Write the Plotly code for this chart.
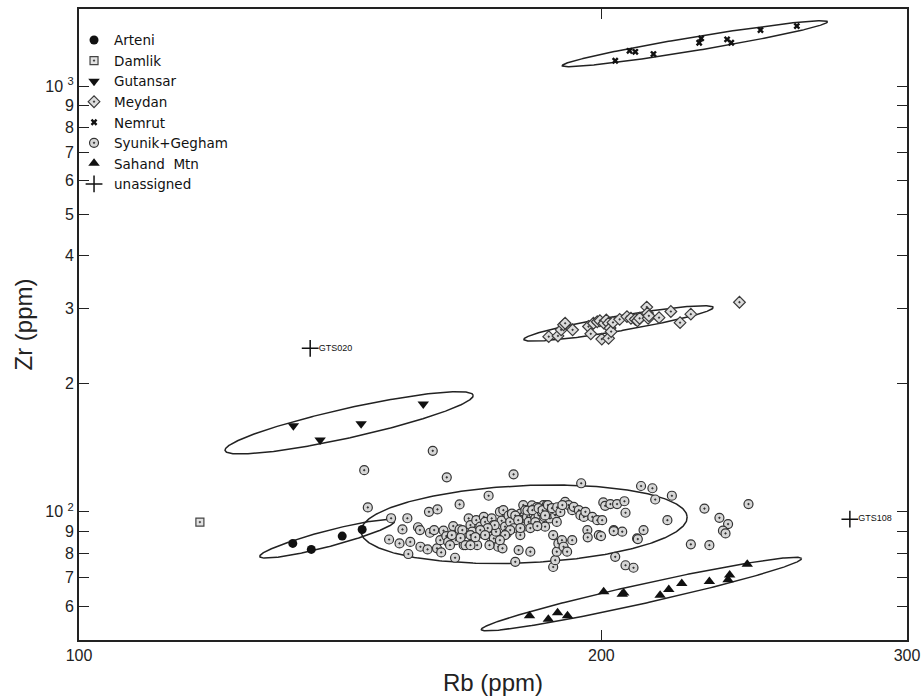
import numpy as np
import plotly.graph_objects as go

# ---------------- data (Rb ppm, Zr ppm) ----------------
arteni_rb = [132.8, 136.1, 141.8, 145.6]
arteni_zr = [84.3, 81.6, 87.7, 90.9]

damlik_rb = [117.4]
damlik_zr = [94.6]

gutansar_rb = [132.9, 137.7, 145.4, 157.9]
gutansar_zr = [159.3, 147.4, 161.1, 179.1]

meydan_rb = [186.5, 188.8, 189.6, 190.2, 190.6, 192.5, 196.6, 197.2, 197.9, 198.9,
             199.6, 200.1, 200.7, 201.3, 201.9, 202.3, 201.9, 202.6, 203.1, 204.9,
             206.9, 208.0, 209.2, 209.8, 210.4, 212.4, 212.6, 212.8, 213.0, 215.9,
             219.3, 222.0, 225.2, 240.2]
meydan_zr = [257.9, 258.9, 267.6, 274.9, 277.3, 267.6, 272.4, 261.8, 277.3, 279.6,
             281.1, 254.5, 277.3, 282.1, 277.3, 270.1, 255.6, 265.1, 278.5, 283.2,
             287.4, 284.8, 283.2, 281.1, 284.8, 302.6, 292.9, 284.8, 288.6, 285.8,
             295.5, 278.2, 291.3, 310.7]

nemrut_rb = [203.7, 207.6, 209.2, 214.3, 228.3, 227.7, 236.3, 237.6, 247.0, 259.2]
nemrut_zr = [1146.7, 1210.0, 1203.5, 1189.0, 1294.5, 1263.8, 1287.4, 1263.8, 1353.7, 1383.3]

syunik_rb = [159.9, 146.0, 162.9, 178.0, 194.7, 210.8, 214.0, 219.6, 146.7, 151.3,
             150.9, 153.0, 153.6, 154.6, 155.2, 154.8, 156.8, 157.2, 157.3, 159.1,
             159.3, 158.8, 160.9, 160.2, 160.8, 161.5, 161.7, 164.7, 162.2, 162.8,
             163.2, 164.3, 165.7, 164.9, 165.7, 166.2, 166.6, 167.7, 168.1, 168.5,
             168.8, 169.4, 169.6, 170.3, 170.7, 171.1, 171.4, 171.8, 172.2, 172.6,
             172.9, 173.3, 173.4, 173.9, 174.4, 174.8, 175.2, 175.4, 175.6, 176.0,
             176.4, 176.8, 177.2, 177.6, 178.0, 178.4, 179.2, 179.6, 179.6, 180.0,
             180.3, 180.4, 180.8, 181.2, 181.6, 182.0, 182.4, 182.8, 183.2, 183.6,
             184.0, 184.4, 184.8, 185.2, 185.4, 185.6, 186.0, 186.4, 186.8, 187.2,
             187.6, 188.1, 188.3, 188.5, 187.6, 188.1, 188.5, 188.9, 189.8, 190.2,
             191.1, 192.4, 190.6, 191.5, 192.4, 192.8, 194.1, 194.5, 195.4, 195.8,
             196.3, 196.4, 197.6, 198.9, 199.3, 200.2, 200.5, 201.0, 202.4, 203.3,
             204.2, 205.6, 206.2, 206.5, 203.7, 206.5, 208.7, 209.7, 211.5, 214.8,
             218.3, 225.2, 229.3, 230.8, 233.9, 236.6, 235.0, 235.8, 243.1, 209.9,
             203.3, 199.9,
             178.4, 179.1, 181.3, 182.5, 184.0, 185.0, 186.3, 187.3, 185.6, 183.2,
             177.2, 176.0, 173.6, 172.0, 170.3, 168.1, 166.3, 165.9, 169.2, 171.4,
             167.0, 163.6, 164.0, 168.1, 174.8, 172.4, 179.6, 182.0, 183.7, 188.6,
             189.4, 189.9]
syunik_zr = [139.1, 125.3, 120.5, 122.5, 116.7, 115.0, 113.6, 109.1, 102.4, 96.6,
             86.1, 84.3, 90.9, 96.6, 85.0, 79.6, 92.0, 90.6, 82.8, 100.0,
             89.3, 81.6, 101.3, 90.6, 82.1, 85.8, 80.3, 78.0, 90.3, 87.7,
             85.0, 92.6, 104.1, 85.8, 90.9, 88.2, 83.5, 96.5, 93.1, 89.8,
             85.8, 95.6, 83.5, 92.3, 89.0, 97.3, 94.7, 90.6, 109.1, 87.4,
             96.5, 93.1, 86.6, 89.8, 82.8, 100.0, 95.3, 82.1, 100.9, 92.3,
             89.0, 98.0, 94.7, 99.0, 91.5, 76.3, 81.3, 88.2, 99.0, 95.6,
             103.7, 92.3, 100.9, 97.3, 94.7, 80.6, 103.5, 99.0, 96.5, 102.6,
             98.2, 94.0, 100.0, 103.7, 97.3, 92.3, 103.7, 99.0, 96.5, 100.9,
             88.2, 98.2, 100.9, 94.7, 74.2, 77.0, 80.6, 84.3, 85.8, 82.8,
             80.6, 85.8, 105.5, 103.7, 100.9, 102.7, 100.9, 98.2, 97.3, 100.0,
             90.6, 87.1, 97.3, 95.6, 88.2, 95.6, 105.2, 103.3, 104.3, 90.6,
             104.3, 89.8, 105.9, 99.5, 78.4, 74.9, 73.9, 86.6, 90.6, 106.9,
             95.6, 83.9, 101.8, 83.5, 96.8, 93.6, 90.3, 89.0, 104.3, 86.3,
             90.1, 87.7,
             98.0, 95.6, 100.7, 100.9, 102.0, 100.9, 103.7, 102.0, 98.1, 94.6,
             90.6, 88.2, 93.1, 91.6, 90.6, 88.2, 90.6, 86.8, 87.2, 88.2,
             83.5, 83.5, 88.2, 83.5, 85.8, 83.5, 91.6, 91.6, 92.6, 102.5,
             99.9, 103.7]

sahand_rb = [181.8, 186.4, 188.7, 191.2, 200.6, 205.6, 206.0, 216.2, 218.7, 222.5,
             230.8, 236.6, 237.1, 242.7]
sahand_zr = [57.0, 55.9, 57.9, 57.0, 64.9, 64.0, 64.5, 63.7, 65.7, 67.9,
             68.6, 69.3, 71.1, 75.3]

unassigned_rb = [135.9, 278.1]
unassigned_zr = [242.1, 96.1]
unassigned_lbl = ["GTS020", "GTS108"]

# ellipses: centre, end of long axis, end of short axis  (Rb, Zr)
ellipses = {
    "Arteni":   [(139.0, 86.4), (152.0, 95.1), (139.4, 82.9)],
    "Gutansar": [(143.1, 161.8), (168.7, 187.9), (143.7, 149.7)],
    "Meydan":   [(204.6, 277.0), (232.0, 302.1), (204.9, 266.0)],
    "Nemrut":   [(226.4, 1257.0), (270.0, 1416.0), (226.7, 1211.7)],
    "Syunik":   [(180.5, 93.5), (224.1, 97.3), (181.0, 75.9)],
    "Sahand":   [(210.9, 64.1), (260.8, 77.7), (211.5, 60.9)],
}

y_tickvals = [60, 70, 80, 90, 100, 200, 300, 400, 500, 600, 700, 800, 900, 1000]
y_ticktext = ["6", "7", "8", "9", "10 <sup>2</sup>", "2", "3", "4", "5", "6", "7",
              "8", "9", "10 <sup>3</sup>"]
x_tickvals = [100, 200, 300]
x_ticktext = ["100", "200", "300"]

# ---------------- figure ----------------
fig = go.Figure()

t = np.linspace(0, 2 * np.pi, 361)
for name, (c, m, n) in ellipses.items():
    lc = np.log10(c)
    u = np.log10(m) - lc
    v = np.log10(n) - lc
    lx = lc[0] + u[0] * np.cos(t) + v[0] * np.sin(t)
    ly = lc[1] + u[1] * np.cos(t) + v[1] * np.sin(t)
    fig.add_trace(go.Scatter(x=10 ** lx, y=10 ** ly, mode="lines",
                             line=dict(color="#222", width=1.5),
                             showlegend=False, hoverinfo="skip"))

DARK = "#111111"
fig.add_trace(go.Scatter(x=arteni_rb, y=arteni_zr, mode="markers", name="Arteni",
                         marker=dict(symbol="circle", size=9, color=DARK)))
fig.add_trace(go.Scatter(x=damlik_rb, y=damlik_zr, mode="markers", name="Damlik",
                         marker=dict(symbol="square-dot", size=8, color="#e2e2e2",
                                     line=dict(color="#444", width=1.2))))
fig.add_trace(go.Scatter(x=gutansar_rb, y=gutansar_zr, mode="markers", name="Gutansar",
                         marker=dict(symbol="triangle-down", size=10, color=DARK)))
fig.add_trace(go.Scatter(x=meydan_rb, y=meydan_zr, mode="markers", name="Meydan",
                         marker=dict(symbol="diamond-dot", size=9, color="#dcdcdc",
                                     line=dict(color="#3a3a3a", width=1.2))))
fig.add_trace(go.Scatter(x=nemrut_rb, y=nemrut_zr, mode="markers", name="Nemrut",
                         marker=dict(symbol="x", size=6, color=DARK,
                                     line=dict(width=0))))
fig.add_trace(go.Scatter(x=syunik_rb, y=syunik_zr, mode="markers", name="Syunik+Gegham",
                         marker=dict(symbol="circle-dot", size=9, color="#d6d6d6",
                                     line=dict(color="#333", width=1.2))))
fig.add_trace(go.Scatter(x=sahand_rb, y=sahand_zr, mode="markers", name="Sahand  Mtn",
                         marker=dict(symbol="triangle-up", size=10, color=DARK)))
fig.add_trace(go.Scatter(x=unassigned_rb, y=unassigned_zr, mode="markers+text",
                         name="unassigned", text=unassigned_lbl,
                         textposition="middle right",
                         textfont=dict(family="Liberation Sans", size=9, color="#111"),
                         marker=dict(symbol="cross-thin", size=12, color=DARK,
                                     line=dict(color=DARK, width=1.5))))

axis_common = dict(showline=True, linecolor="#222", linewidth=2, mirror="ticks",
                   ticks="inside", ticklen=10, tickwidth=1, tickcolor="#222",
                   showgrid=False, zeroline=False, automargin=False,
                   tickfont=dict(family="Liberation Sans", size=16, color="#222"))

fig.update_xaxes(type="log", range=[2, np.log10(300)], tickvals=x_tickvals,
                 ticktext=x_ticktext,
                 title=dict(text="Rb (ppm)", standoff=11,
                            font=dict(family="Liberation Sans", size=24, color="#222")),
                 **axis_common)
fig.update_yaxes(type="log", range=[np.log10(50), np.log10(1517)], tickvals=y_tickvals,
                 ticktext=y_ticktext,
                 title=dict(text="Zr (ppm)", standoff=6,
                            font=dict(family="Liberation Sans", size=24, color="#222")),
                 **axis_common)

fig.update_layout(
    width=922, height=698,
    margin=dict(l=79, r=15, t=9, b=58, autoexpand=False),
    paper_bgcolor="white", plot_bgcolor="white",
    showlegend=True,
    legend=dict(x=-0.006, y=0.975, xanchor="left", yanchor="top",
                bgcolor="rgba(0,0,0,0)", borderwidth=0,
                font=dict(family="DejaVu Sans", size=13.5, color="#111"),
                tracegroupgap=0, itemsizing="trace"),
)

fig.write_html("out.html")
